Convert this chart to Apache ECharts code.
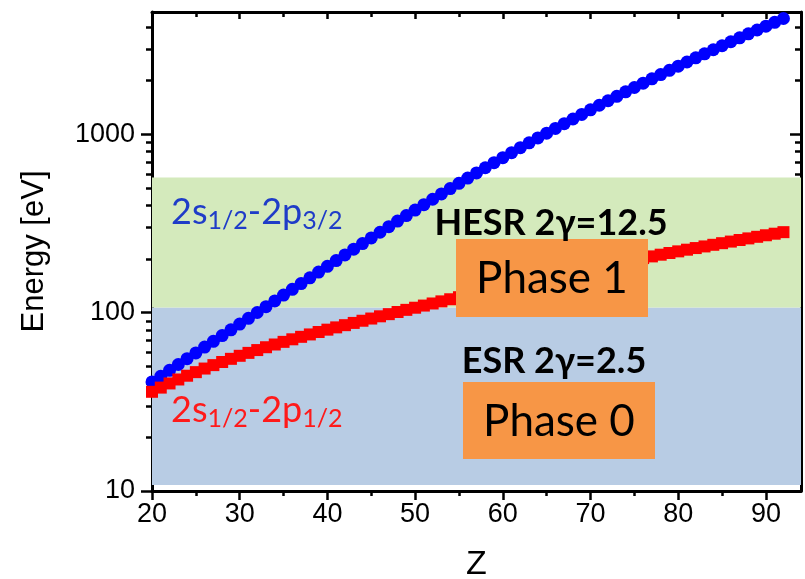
<!DOCTYPE html>
<html>
<head>
<meta charset="utf-8">
<script src="https://cdn.jsdelivr.net/npm/echarts@6/dist/echarts.min.js"></script>
<style>
html,body{margin:0;padding:0;background:#fff;}
#chart{width:805px;height:579px;}
</style>
</head>
<body>
<div id="chart"></div>
<script>
// ---- data ----
const zValues = [20,21,22,23,24,25,26,27,28,29,30,31,32,33,34,35,36,37,38,39,40,41,42,43,44,45,46,47,48,49,50,51,52,53,54,55,56,57,58,59,60,61,62,63,64,65,66,67,68,69,70,71,72,73,74,75,76,77,78,79,80,81,82,83,84,85,86,87,88,89,90,91,92];
// 2s1/2-2p1/2 (red)
const energyP12 = [36.0,38.0,40.1,42.2,44.3,46.4,48.6,50.8,52.9,55.1,57.3,59.5,61.7,64.0,66.3,68.6,70.9,73.2,75.5,77.9,80.3,82.7,85.1,87.6,90.1,92.7,95.4,98.1,100.9,103.7,106.6,109.6,112.6,115.7,118.9,122.1,125.4,128.7,132.1,135.5,139.0,142.5,146.1,149.7,153.4,157.1,160.9,164.8,168.7,172.7,176.7,180.8,185.0,189.2,193.5,197.9,202.3,206.8,211.4,216.0,220.7,225.5,230.3,235.2,240.2,245.3,250.4,255.6,260.9,266.3,271.7,277.2,282.8];
// 2s1/2-2p3/2 (blue)
const energyP32 = [40.9,44.0,47.5,51.2,55.2,59.5,64.1,69.1,74.4,80.1,86.3,93.0,100.2,108.0,116.4,125.5,135.2,145.6,156.9,169.0,182.0,195.9,210.9,227.0,244.1,262.6,282.4,303.5,326.1,350.2,375.9,403.3,432.4,463.5,496.4,531.4,568.5,607.8,649.5,693.5,740.1,789.3,841.4,896.3,954.3,1015.3,1079.7,1147.5,1218.9,1293.9,1372.9,1455.8,1543.1,1634.4,1730.6,1831.3,1937.0,2047.6,2163.6,2285.0,2412.1,2545.0,2684.0,2829.3,2981.2,3139.9,3305.6,3478.4,3658.9,3847.2,4043.4,4248.0,4461.3];
// shaded energy windows [low, high] in eV
const esrBand = [10.8, 107];
const hesrBand = [107, 573];
// axis ticks
const xMajorTicks = [20,30,40,50,60,70,80,90];
const xMinorTicks = [25,35,45,55,65,75,85];
const yMajorTicks = [10,100,1000];
const yMinorTicks = [20,30,40,50,60,70,80,90,200,300,400,500,600,700,800,900,2000,3000,4000];

const chart = echarts.init(document.getElementById('chart'), null, {renderer:'canvas'});
const AXC = '#000';
const labelFont = 'Liberation Sans, Arial, sans-serif';
const annFont = 'Lato, Open Sans, sans-serif';

function xAxisDef(pos, ticks, len, inside, showLine, showLabel, extra){
  return Object.assign({
    type:'value', position:pos, min:20, max:94,
    axisLine:{show:showLine, onZero:false, lineStyle:{color:AXC, width:3}},
    axisTick:{show:true, inside:inside, length:len, customValues:ticks, lineStyle:{color:AXC, width:2.5}},
    axisLabel:{show:showLabel, customValues:ticks, color:'#000', fontSize:27, fontFamily:labelFont, margin:10,
      formatter:(v)=>String(v)},
    splitLine:{show:false}
  }, extra||{});
}
function yAxisDef(pos, ticks, len, inside, showLine, showLabel, extra){
  return Object.assign({
    type:'log', logBase:10, position:pos, min:10, max:4853,
    axisLine:{show:showLine, onZero:false, lineStyle:{color:AXC, width:3}},
    axisTick:{show:true, inside:inside, length:len, customValues:ticks, lineStyle:{color:AXC, width:2.5}},
    axisLabel:{show:showLabel, customValues:ticks, color:'#000', fontSize:27, fontFamily:labelFont, margin:17,
      formatter:(v)=>String(Math.round(v))},
    splitLine:{show:false}, minorTick:{show:false}
  }, extra||{});
}

const option = {
  backgroundColor:'#fff',
  animation:false,
  grid:{left:152, top:12, right:4, bottom:88, containLabel:false, outerBoundsMode:'none'},
  xAxis:[
    xAxisDef('bottom', xMajorTicks, 9, false, true, true, {name:'Z', nameLocation:'middle', nameGap:57, nameTextStyle:{fontSize:34, fontFamily:labelFont, color:'#000'}}),
    xAxisDef('bottom', xMinorTicks, 5, false, false, false),
    xAxisDef('top', xMajorTicks, 7, true, true, false),
    xAxisDef('top', xMinorTicks, 5, true, false, false)
  ],
  yAxis:[
    yAxisDef('left', yMajorTicks, 11, false, true, true, {name:'Energy [eV]', nameLocation:'middle', nameGap:102, nameRotate:90, nameTextStyle:{fontSize:31, fontFamily:labelFont, color:'#000'}}),
    yAxisDef('left', yMinorTicks, 6, false, false, false),
    yAxisDef('right', yMajorTicks, 11, true, true, false),
    yAxisDef('right', yMinorTicks, 6, true, false, false)
  ],
  series:[
    {
      name:'2s1/2-2p3/2', type:'line', xAxisIndex:0, yAxisIndex:0,
      data: zValues.map((z,i)=>[z, energyP32[i]]),
      showSymbol:true, symbol:'circle', symbolSize:13,
      lineStyle:{width:0}, itemStyle:{color:'#0000ff'},
      z:3,
      markArea:{
        silent:true,
        data:[
          [{yAxis:esrBand[0], itemStyle:{color:'#b8cce4'}}, {yAxis:esrBand[1]}],
          [{yAxis:hesrBand[0], itemStyle:{color:'#d4eabc'}}, {yAxis:hesrBand[1]}]
        ]
      }
    },
    {
      name:'2s1/2-2p1/2', type:'line', xAxisIndex:0, yAxisIndex:0,
      data: zValues.map((z,i)=>[z, energyP12[i]]),
      showSymbol:true, symbol:'rect', symbolSize:12,
      lineStyle:{width:0}, itemStyle:{color:'#ff0000'},
      z:4
    }
  ],
  graphic:[
    {type:'text', left:171, top:194, z:10, style:{
      text:'{m|2s}{s|1/2}{m|-2p}{s|3/2}',
      rich:{m:{fontSize:36, fontFamily:annFont, fill:'#1f3cc8', lineHeight:42}, s:{fontSize:25, fontFamily:annFont, fill:'#1f3cc8', lineHeight:16, verticalAlign:'bottom'}}
    }},
    {type:'text', left:171, top:392, z:10, style:{
      text:'{m|2s}{s|1/2}{m|-2p}{s|1/2}',
      rich:{m:{fontSize:36, fontFamily:annFont, fill:'#ff1a1a', lineHeight:42}, s:{fontSize:25, fontFamily:annFont, fill:'#ff1a1a', lineHeight:16, verticalAlign:'bottom'}}
    }},
    {type:'text', x:551, y:223, z:10, style:{text:'HESR 2\u03b3=12.5', fontSize:36, fontWeight:'bold', fontFamily:annFont, fill:'#000', align:'center', verticalAlign:'middle'}},
    {type:'rect', shape:{x:456, y:239, width:192, height:78}, z:9, style:{fill:'#f79646'}},
    {type:'text', x:552, y:279, z:10, style:{text:'Phase 1', fontSize:44, fontFamily:annFont, fill:'#000', align:'center', verticalAlign:'middle'}},
    {type:'text', x:554, y:361, z:10, style:{text:'ESR 2\u03b3=2.5', fontSize:36, fontWeight:'bold', fontFamily:annFont, fill:'#000', align:'center', verticalAlign:'middle'}},
    {type:'rect', shape:{x:463, y:382, width:192, height:77}, z:9, style:{fill:'#f79646'}},
    {type:'text', x:559, y:422, z:10, style:{text:'Phase 0', fontSize:44, fontFamily:annFont, fill:'#000', align:'center', verticalAlign:'middle'}}
  ]
};
chart.setOption(option);
</script>
</body>
</html>
